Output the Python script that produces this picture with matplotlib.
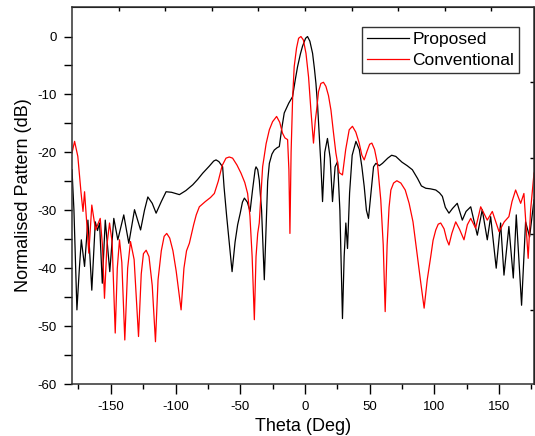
import numpy as np
import matplotlib
matplotlib.use("Agg")
import matplotlib.pyplot as plt

plt.rcParams['font.family'] = ['Liberation Sans', 'DejaVu Sans']
plt.rcParams['axes.unicode_minus'] = False

# Proposed (black) pattern
theta_prop = [-180, -178.5, -176.2, -174.3, -172.8, -170.3, -167.7, -164.7, -162, -160.3,
              -158.7, -156.6, -154.3, -150.8, -147.7, -144.6, -140, -136.1, -131.7, -127,
              -124, -121.4, -118, -115, -111, -107.3, -103, -97, -92, -86.7,
              -83, -79, -74, -70.5, -68.7, -66.5, -63.6, -62.5, -60.5, -58.5,
              -56.3, -54, -52, -50, -48.3, -46.8, -44.5, -42.4, -40.5, -38.5,
              -37.8, -36.5, -35.3, -33.5, -31.4, -30, -28.8, -27.5, -25.5, -23.7,
              -21.5, -19.8, -18, -16, -12.5, -9.6, -7.5, -5.7, -3.5, -1.9,
              0.5, 2, 3.8, 5.9, 7.3, 8.5, 9.8, 11, 12.3, 13.6,
              15.3, 17.4, 19.5, 21.3, 23.3, 25.2, 27, 29, 30.3, 31.6,
              32.9, 34.5, 36.5, 39.4, 42, 44, 45.8, 47.5, 49.1, 51,
              53, 54.8, 57.5, 59.9, 64, 67, 70.2, 75, 79, 83,
              87, 90, 93.4, 97, 101.1, 104, 106.2, 108.5, 111.3, 114,
              117.7, 121.6, 124.5, 128.1, 133.2, 137, 140.9, 143.5, 147.8, 151.2,
              153.8, 157.6, 161, 163.3, 167.4, 170.5, 173.6, 177]
db_prop = [-23, -30, -47.2, -40, -35.1, -39.7, -31.7, -43.8, -32, -33.5,
           -32.2, -42.6, -31.7, -40.6, -31.4, -35.1, -30.8, -35.7, -29.9, -33.4,
           -30, -27.7, -28.8, -30.5, -28.5, -26.8, -26.9, -27.3, -26.6, -25.6,
           -24.7, -23.6, -22.4, -21.5, -21.3, -21.6, -22.5, -26, -31, -35.5,
           -40.6, -35.5, -32.5, -30.5, -28.6, -27.9, -28.6, -30.2, -26.5, -23,
           -22.5, -23, -24.8, -30, -42, -33, -25, -21.9, -20.3, -19.6,
           -19.2, -19, -16, -13.2, -11.5, -10.4, -7.5, -5.2, -3, -1.7,
           -0.3, 0, -0.8, -2.9, -5.5, -8.1, -12, -16.7, -22, -28.5,
           -20, -17.6, -21, -28.5, -22.5, -21.6, -30, -48.7, -38, -32.2,
           -36.6, -27, -20.5, -18.1, -19.5, -22.5, -25.9, -30, -31.4, -27,
           -22.5, -21.9, -22.3, -21.9, -21, -20.5, -20.7, -21.7, -22.3, -23,
           -24.5, -25.8, -26.2, -26.3, -26.5, -27, -27.6, -29.5, -30.5, -29.7,
           -28.8, -31.7, -30.2, -29.4, -34.3, -29.9, -35.1, -31.1, -40, -32.2,
           -41.2, -32.8, -41.7, -30.8, -46.4, -32, -34.6, -28.2]

# Conventional (red) pattern
theta_conv = [-180, -178, -175.5, -173, -171.5, -170.3, -167, -164.7, -161.8, -158.2,
              -156.5, -154.9, -153, -151, -149, -146.6, -145, -143.3, -141.5, -139.2,
              -137, -134.8, -132, -128.6, -126.5, -124.8, -122.7, -120.5, -118, -115.5,
              -113.5, -111, -108.8, -106.8, -104.5, -102, -99.5, -97.5, -95.7, -93.5,
              -91.5, -89.3, -86, -84, -81.6, -77, -73, -70, -67, -64,
              -61, -58.5, -55.9, -52.5, -49.4, -46.5, -44.3, -42.5, -40.8, -39.1,
              -37.8, -36.5, -35.3, -34, -32.7, -30, -27.5, -25, -21.9, -19.5,
              -17.3, -15.5, -13.4, -12.4, -11.6, -10.7, -9.5, -8.3, -6.5, -4.9,
              -3.1, -1.2, 0.8, 2.8, 4.6, 6.6, 8, 9, 10.5, 12.3,
              14.3, 16.2, 18.2, 20.1, 22, 23.9, 26.5, 29, 31.5, 34.2,
              36.7, 39.3, 41.9, 44, 45.8, 48, 50, 51.7, 53.8, 56,
              58.6, 60.5, 62, 63.5, 65, 66.4, 68.5, 71, 74.1, 77.5,
              80.5, 83.5, 86.9, 89.5, 92.1, 94.5, 97.2, 99, 101.1, 103,
              104.9, 107.5, 109.5, 111.3, 113.5, 116.5, 119.5, 122.9, 125.5, 128.1,
              131.9, 135.8, 140.9, 144.8, 150, 154, 157.6, 160, 162.8, 166.7,
              169.2, 172.5, 174.4, 177, 180]
db_conv = [-20.1, -18.1, -20.7, -27, -30.2, -26.8, -37.4, -29.1, -33.4, -31.4,
           -36, -45.2, -36, -32.2, -35.5, -51.2, -40, -35.1, -39, -52.4,
           -40, -35.4, -38.5, -51.8, -41, -37.5, -36.9, -38, -43, -52.7,
           -42, -37, -34.5, -34, -34.8, -37, -40.5, -44, -47.2, -40,
           -37, -35.7, -32.5, -30.8, -29.4, -28.5, -27.8, -27.1, -25, -22.3,
           -21, -20.8, -21, -22.2, -23.6, -25.2, -27.1, -31, -38, -48.9,
           -38, -34, -32.2, -27.5, -22.5, -18.5, -16.1, -14.7, -13.8, -14.8,
           -16.7, -17.5, -17.8, -23, -34, -20, -10.5, -5.2, -2, -0.3,
           0, -0.6, -2.9, -7, -12.7, -18.4, -14.5, -12.7, -9.5, -8.1,
           -7.9, -8.6, -10.2, -12.7, -16.5, -20.1, -23.5, -23.9, -19.5, -16.1,
           -15.5, -16.5, -18.4, -20.5, -21.3, -19.8, -18.6, -18.4, -19.5, -21.9,
           -28.2, -36, -47.5, -36, -29.5, -26.5, -25.3, -24.9, -25.3, -26.5,
           -28.8, -32, -38, -42.5, -46.9, -42, -38, -35.2, -33.4, -32.4,
           -32.2, -33.2, -35, -36, -34, -32, -33.3, -35.1, -32.5, -31.4,
           -33.1, -29.4, -31.7, -30.2, -33.7, -32, -31.1, -28.5, -26.5, -28.8,
           -27.1, -38.3, -29.9, -23.6, -22]

fig = plt.figure(figsize=(5.35, 4.36), dpi=100)
ax = fig.add_axes([72 / 535, 52 / 436, 462 / 535, 377 / 436])

ax.plot(theta_prop, db_prop, color="black", lw=0.9, label="Proposed")
ax.plot(theta_conv, db_conv, color="#ff0000", lw=0.9, label="Conventional")

ax.set_xlim(-180, 177)
ax.set_ylim(-60, 5.1)

ax.set_xticks(np.arange(-150, 151, 50))
ax.set_xticks(np.arange(-175, 177, 25), minor=True)
ax.set_yticks(np.arange(-60, 1, 10))
ax.set_yticks(np.arange(-55, 1, 5), minor=True)

ax.tick_params(axis="x", which="major", direction="out", length=7, width=1,
               labelsize=9.5, pad=5, top=False)
ax.tick_params(axis="x", which="minor", direction="out", length=3.5, width=1, top=False)
ax.tick_params(axis="y", which="both", direction="out", length=6, width=1,
               labelsize=9.5, pad=5, right=False)

for s in ax.spines.values():
    s.set_linewidth(1.1)
    s.set_color("#303030")

# mirrored axes at top / right have their own tick spacing
top = ax.secondary_xaxis("top")
top.set_xticks(np.arange(-144, 145, 36))
top.tick_params(direction="in", length=3, width=1, labeltop=False)
right = ax.secondary_yaxis("right")
right.set_yticks([-7.9, -21, -34.1, -47.2])
right.tick_params(direction="in", length=3, width=1, labelright=False)

ax.set_xlabel("Theta (Deg)", fontsize=13, labelpad=4)
ax.set_ylabel("Normalised Pattern (dB)", fontsize=13, labelpad=4)

leg = ax.legend(loc="upper right", bbox_to_anchor=(0.968, 0.947), fontsize=12.5,
                frameon=True, fancybox=False, handlelength=2.4, handletextpad=0.2,
                labelspacing=0.3, borderpad=0.3, borderaxespad=0)
leg.get_frame().set_edgecolor("black")
leg.get_frame().set_linewidth(1.0)

fig.savefig("out.png", dpi=100)
